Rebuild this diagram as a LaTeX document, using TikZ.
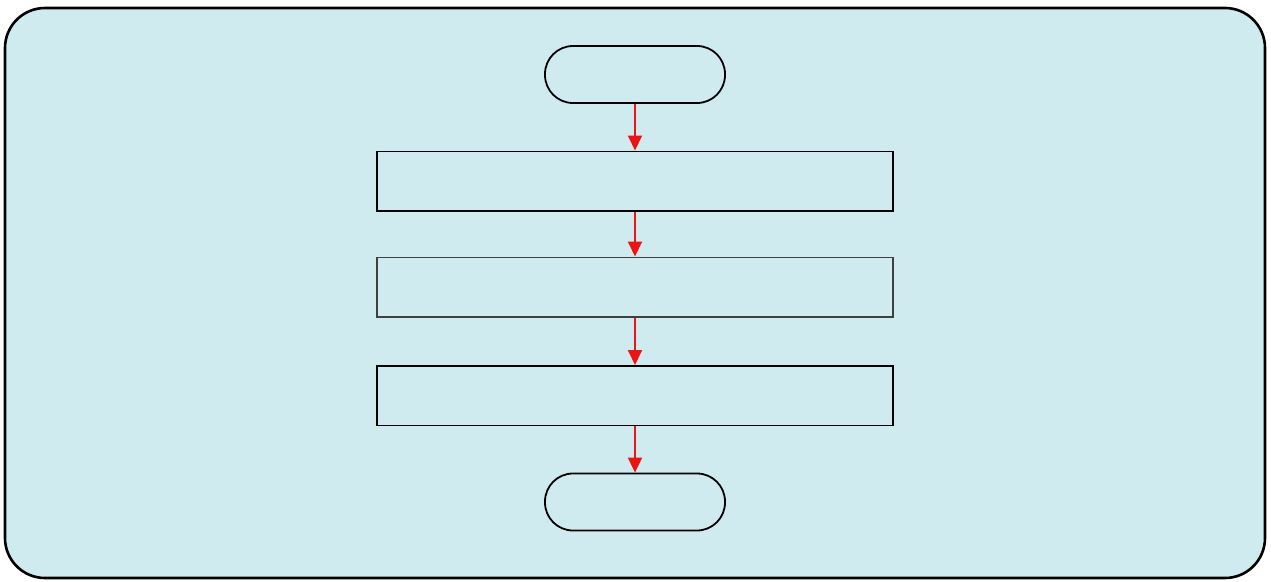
\documentclass[tikz,border=0pt]{standalone}
\usetikzlibrary{arrows.meta}
\definecolor{panel}{RGB}{207,235,239}
\definecolor{arrowred}{RGB}{235,20,20}
\begin{document}
\begin{tikzpicture}[x=1pt,y=-1pt,
  panelbox/.style={draw=black, line width=2.6pt, fill=panel, rounded corners=40pt},
  term/.style={draw=black, line width=1.8pt, rounded corners=28pt, minimum width=180pt, minimum height=57pt, inner sep=0pt},
  procbox/.style={draw=black, line width=1.5pt, minimum width=516pt, minimum height=59.5pt, inner sep=0pt},
  flow/.style={draw=arrowred, line width=1.9pt, -{Triangle[length=15pt,width=14pt]}}]
\useasboundingbox (0,0) rectangle (1271,581);
\draw[panelbox] (5,8) rectangle (1265,578);
\node[term] (start) at (635,74.5) {};
\node[procbox] (p1) at (635,181) {};
\node[procbox, draw=black!75] (p2) at (635,287) {};
\node[procbox] (p3) at (635,395.5) {};
\node[term] (stop) at (635,502) {};
\draw[flow] (start) -- (p1);
\draw[flow] (p1) -- (p2);
\draw[flow] (p2) -- (p3);
\draw[flow] (p3) -- (stop);
\end{tikzpicture}
\end{document}
